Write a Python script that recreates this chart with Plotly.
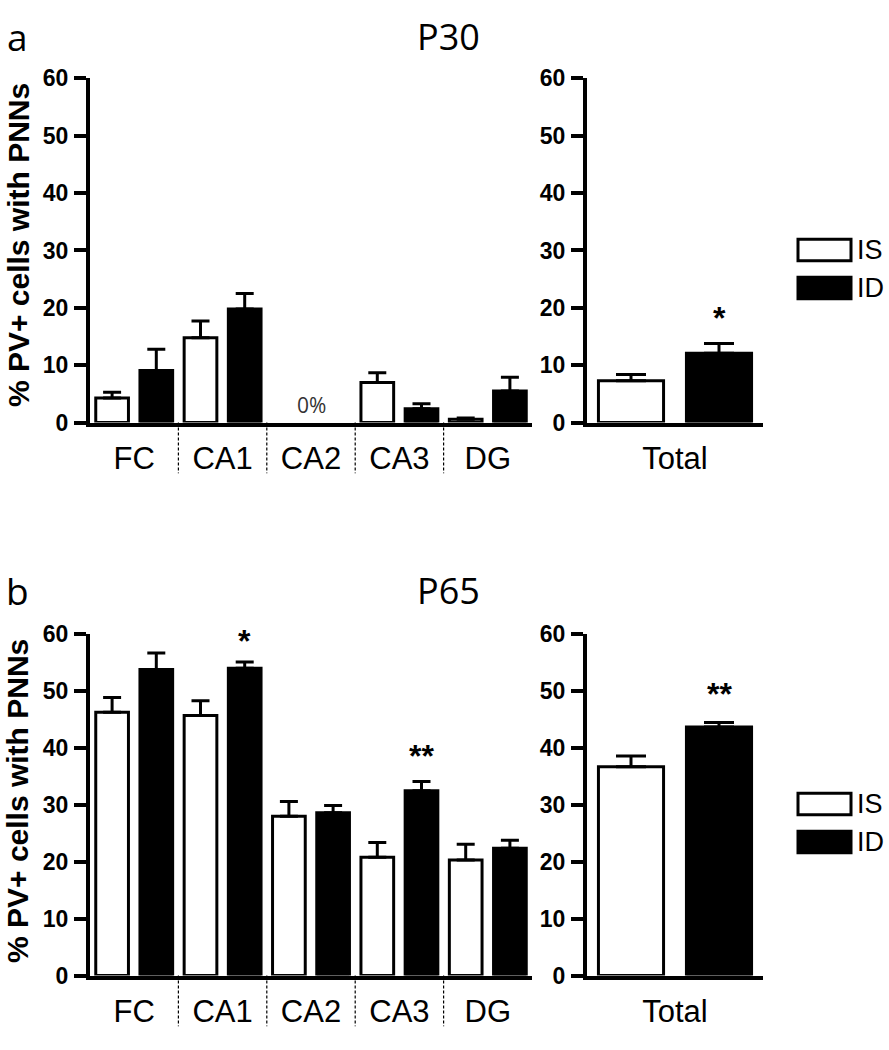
import plotly.graph_objects as go

# ---------------- data ----------------
regions = ["FC", "CA1", "CA2", "CA3", "DG"]
total_cat = ["Total"]

p30_is = [4.3, 14.8, 0.0, 7.0, 0.6]
p30_is_err = [1.0, 2.9, 0.0, 1.7, 0.2]
p30_id = [9.1, 19.8, 0.0, 2.4, 5.5]
p30_id_err = [3.7, 2.7, 0.0, 0.9, 2.4]
p30_total_is = [7.3]
p30_total_is_err = [1.1]
p30_total_id = [12.1]
p30_total_id_err = [1.7]

p65_is = [46.3, 45.7, 28.0, 20.8, 20.3]
p65_is_err = [2.6, 2.6, 2.6, 2.6, 2.8]
p65_id = [53.8, 54.0, 28.6, 32.5, 22.4]
p65_id_err = [2.9, 1.1, 1.3, 1.6, 1.4]
p65_total_is = [36.7]
p65_total_is_err = [1.9]
p65_total_id = [43.7]
p65_total_id_err = [0.8]

y_ticks = [0, 10, 20, 30, 40, 50, 60]
# significance marks: (x-axis, y-axis, category index, text, y position)
sig_marks = [
    ("x2", "y2", 0, "*", 18.3),
    ("x3", "y3", 1, "*", 58.8),
    ("x3", "y3", 3, "**", 38.6),
    ("x4", "y4", 0, "**", 49.5),
]

W, H = 889, 1050
BLACK = "black"
TICKFONT = dict(family="Arial, Liberation Sans, sans-serif", size=23, color=BLACK, weight="bold")
CATFONT = dict(family="Arial, Liberation Sans, sans-serif", size=31, color=BLACK)

fig = go.Figure()


def add_bar(cats, vals, errs, fill, xa, ya, capw, name):
    # zero-valued bars (e.g. CA2 at P30) are not drawn at all
    keep = [i for i, v in enumerate(vals) if v > 0]
    fig.add_trace(go.Bar(
        x=[cats[i] for i in keep], y=[vals[i] for i in keep], name=name,
        xaxis=xa, yaxis=ya, showlegend=False,
        marker=dict(color=fill, line=dict(color=BLACK, width=3)),
        error_y=dict(type="data", symmetric=False, array=[errs[i] for i in keep],
                     arrayminus=[0] * len(keep), color=BLACK, thickness=3, width=capw),
    ))


def add_pair(cats, v_is, e_is, v_id, e_id, xa, ya, capw):
    add_bar(cats, v_is, e_is, "white", xa, ya, capw, "IS")
    add_bar(cats, v_id, e_id, BLACK, xa, ya, capw, "ID")


add_pair(regions, p30_is, p30_is_err, p30_id, p30_id_err, "x", "y", 9)
add_pair(total_cat, p30_total_is, p30_total_is_err, p30_total_id, p30_total_id_err, "x2", "y2", 15)
add_pair(regions, p65_is, p65_is_err, p65_id, p65_id_err, "x3", "y3", 9)
add_pair(total_cat, p65_total_is, p65_total_is_err, p65_total_id, p65_total_id_err, "x4", "y4", 15)

# domains (paper fractions)
left_dom = [90 / W, 532 / W]
right_dom = [587 / W, 763 / W]
top_dom = [(H - 420) / H, (H - 67) / H]
bot_dom = [(H - 987) / H, (H - 637) / H]

xcommon = dict(showline=True, linecolor=BLACK, linewidth=4, ticks="", tickfont=CATFONT,
               showgrid=False, zeroline=False, ticklabelstandoff=5, fixedrange=True,
               type="category")
ycommon = dict(showline=True, linecolor=BLACK, linewidth=4, ticks="outside", ticklen=12,
               tickwidth=4, tickcolor=BLACK, tickfont=TICKFONT, tickvals=y_ticks,
               range=[0, 60], showgrid=False, zeroline=False, ticklabelstandoff=1,
               fixedrange=True)

fig.update_layout(
    width=W, height=H, margin=dict(l=0, r=0, t=0, b=0),
    paper_bgcolor="white", plot_bgcolor="white",
    barmode="group", bargap=0.0, bargroupgap=0.26, showlegend=False,
    xaxis=dict(domain=left_dom, anchor="y", range=[-0.5, 4.5],
               categoryorder="array", categoryarray=regions, **xcommon),
    yaxis=dict(domain=top_dom, anchor="x", **ycommon),
    xaxis2=dict(domain=right_dom, anchor="y2", range=[-0.5, 0.5],
                categoryorder="array", categoryarray=total_cat, **xcommon),
    yaxis2=dict(domain=top_dom, anchor="x2", **ycommon),
    xaxis3=dict(domain=left_dom, anchor="y3", range=[-0.5, 4.5],
                categoryorder="array", categoryarray=regions, **xcommon),
    yaxis3=dict(domain=bot_dom, anchor="x3", **ycommon),
    xaxis4=dict(domain=right_dom, anchor="y4", range=[-0.5, 0.5],
                categoryorder="array", categoryarray=total_cat, **xcommon),
    yaxis4=dict(domain=bot_dom, anchor="x4", **ycommon),
)

shapes = []
# dashed group dividers below the x axes
for xa, dom in (("x", top_dom), ("x3", bot_dom)):
    for k in range(1, len(regions)):
        shapes.append(dict(type="line", xref=xa, yref="paper", x0=k - 0.5, x1=k - 0.5,
                           y0=dom[0], y1=dom[0] - 52 / H,
                           line=dict(color=BLACK, width=1.2, dash="3px,2px")))

annotations = []
# legends (drawn boxes + text)
for top_px in (232, 800):
    for j, (lab, fill) in enumerate((("IS", "white"), ("ID", BLACK))):
        y0 = top_px + j * 39
        shapes.append(dict(type="rect", xref="paper", yref="paper",
                           x0=798 / W, x1=851 / W, y0=(H - y0) / H, y1=(H - y0 - 22) / H,
                           fillcolor=fill, line=dict(color=BLACK, width=3)))
        annotations.append(dict(xref="paper", yref="paper", x=855 / W, y=(H - y0 - 11) / H,
                                text=lab, showarrow=False, xanchor="left", yanchor="middle",
                                font=dict(family="Arial, Liberation Sans, sans-serif", size=27,
                                          color=BLACK)))

# panel letters and titles
for letter, title, ypx in (("a", "P30", 24), ("b", "P65", 592)):
    annotations.append(dict(xref="paper", yref="paper", x=17 / W, y=(H - ypx) / H, text=letter,
                            showarrow=False, xanchor="center", yanchor="middle",
                            font=dict(family="Open Sans, sans-serif", size=37, color=BLACK)))
    annotations.append(dict(xref="paper", yref="paper", x=449 / W, y=(H - ypx) / H, text=title,
                            showarrow=False, xanchor="center", yanchor="middle",
                            font=dict(family="Open Sans, sans-serif", size=36, color=BLACK)))

# y-axis titles
for ycen in (238, 808):
    annotations.append(dict(xref="paper", yref="paper", x=18 / W, y=(H - ycen) / H,
                            text="% PV+ cells with PNNs", textangle=-90, showarrow=False,
                            xanchor="center", yanchor="middle",
                            font=dict(family="Arial, Liberation Sans, sans-serif", size=30,
                                      color=BLACK, weight="bold")))

# 0% label for CA2 at P30
annotations.append(dict(xref="x", yref="y", x=2, y=3.1, text="0%", showarrow=False,
                        xanchor="center", yanchor="middle",
                        font=dict(family="Open Sans, sans-serif", size=21, color="#333333")))

# significance asterisks
for xa, ya, idx, txt, yv in sig_marks:
    annotations.append(dict(xref=xa, yref=ya, x=idx + 0.25, y=yv, text=txt, showarrow=False,
                            xanchor="center", yanchor="middle",
                            font=dict(family="Arial, Liberation Sans, sans-serif", size=32,
                                      color=BLACK, weight="bold")))

fig.update_layout(shapes=shapes, annotations=annotations)

fig.write_html(
    "out.html",
    config={"displayModeBar": False, "staticPlot": True},
    post_script="document.body.style.margin='0';document.body.style.overflow='hidden';",
)
